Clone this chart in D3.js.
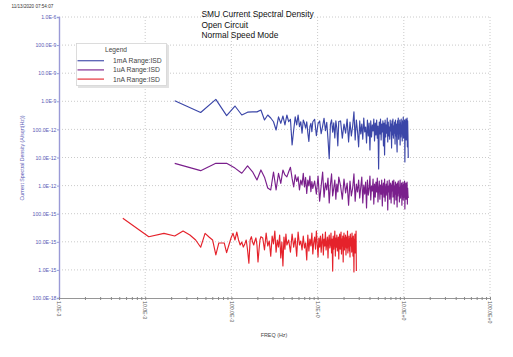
<!DOCTYPE html>
<html><head><meta charset="utf-8">
<script src="https://cdn.jsdelivr.net/npm/d3@7"></script>
<style>body{margin:0;background:#fff}svg{display:block;font-family:"Liberation Sans",Arial,sans-serif}</style>
</head><body><svg id="c" width="513" height="357"></svg>
<script>
const titleLines = ["SMU Current Spectral Density","Open Circuit","Normal Speed Mode"];
const timestamp = "11/13/2020 07:54:07";
const xTitle = "FREQ (Hz)";
const yTitle = "Current Spectral Density (A/sqrt(Hz))";
const seriesNames = ["1mA Range:ISD","1uA Range:ISD","1nA Range:ISD"];
const xTicks = [1e-3,1e-2,1e-1,1,10,100];
const yTicks = [1e-6,1e-7,1e-8,1e-9,1e-10,1e-11,1e-12,1e-13,1e-14,1e-15,1e-16];
// frequency resolution (Hz per bin) of each series
const binWidth = [0.022, 0.022, 0.0055];
// FFT bin numbers shown
const bins = [1,2,3,4,5,6,7,8,9,10,11,12,13,14,15,16,17,18,19,20,21,22,23,24,25,26,27,28,29,30,31,32,33,34,35,36,37,38,39,40,
42,44,46,48,50,52,54,56,58,60,62,64,66,68,70,72,74,76,78,80,
84,88,92,96,100,104,108,112,116,120,124,128,132,136,140,144,148,152,156,160,164,168,172,176,180,184,188,192,196,200,
204,208,212,216,220,224,228,232,236,240,244,248,252,256,260,264,268,272,276,280,284,288,292,296,300,304,308,312,316,320,
324,328,332,336,340,344,348,352,356,360,364,368,372,376,380,384,388,392,396,400,404,408,412,416,420,424,428,432,436,440,
444,448,452,456,460,464,468,472,476,480,484,488,492,496,500,504,508,512];
const isd1mA = [1.05e-9,4.0e-10,1.17e-9,3.1e-10,6.8e-10,3.25e-10,4.1e-10,4.2e-10,4.2e-10,4.9e-10,
2.16e-10,3.25e-10,2.55e-10,1.87e-10,9.5e-11,2.8e-10,1.65e-10,3.0e-10,1.44e-10,3.25e-10,
1.87e-10,2.3e-10,2.8e-11,9.5e-11,2.8e-10,1.44e-10,3.25e-10,1.25e-10,1.87e-10,7.3e-11,
2.16e-10,1.65e-10,1.1e-10,1.87e-10,7.5e-11,3.7e-11,1.25e-10,1.65e-10,8.3e-11,1.87e-10,
2.3e-10,6.0e-11,1.6e-10,2.0e-10,7.0e-11,1.3e-10,2.5e-10,9.0e-11,1.8e-10,4.5e-11,
9.0e-12,1.5e-10,2.2e-10,8.0e-11,1.7e-10,5.0e-11,2.0e-10,1.1e-10,2.6e-11,1.9e-10,
2.0e-10,4.9e-11,1.56e-10,7.4e-11,2.34e-10,3.6e-11,1.83e-10,5.8e-11,1.32e-10,4.2e-10,
4.2e-11,2.16e-10,8.8e-11,2.4e-11,2.0e-10,6.9e-11,1.56e-10,4.5e-11,2.55e-10,8.1e-11,
1.22e-10,3.3e-11,2.16e-10,5.8e-11,1.69e-10,1.85e-11,2.0e-10,5.4e-11,1.44e-10,8.8e-11,
2.34e-10,3.9e-11,1.69e-10,6.3e-11,2.16e-10,4.9e-11,1.32e-10,3.9e-12,1.83e-10,6.9e-11,
2.34e-10,4.2e-11,1.56e-10,8.1e-11,2.0e-10,2.6e-11,1.69e-10,1.23e-11,2.16e-10,5.4e-11,
1.44e-10,7.4e-11,2.55e-10,3.6e-11,1.83e-10,5.8e-11,1.22e-10,4.5e-11,2.16e-10,8.8e-11,
1.56e-10,2.2e-11,2.0e-10,6.3e-11,2.34e-10,4.9e-11,1.32e-10,7.4e-11,1.83e-10,3.0e-11,
2.16e-10,5.8e-11,1.56e-10,4.2e-11,1.57e-11,2.0e-10,6.9e-11,2.55e-10,4.5e-11,1.44e-10,
8.8e-11,2.16e-10,2.8e-11,1.69e-10,5.4e-11,2.34e-10,7.4e-11,1.32e-10,3.9e-11,2.0e-10,
6.3e-11,2.76e-10,4.9e-11,1.56e-10,8.1e-11,2.16e-10,6.9e-12,1.83e-10,5.8e-11,2.34e-10,
4.2e-11,1.44e-10,7.4e-11,2.55e-10,2.4e-11,2.0e-10,5.4e-11,9.6e-12];
const isd1uA = [6.2e-12,3.4e-12,6.2e-12,6.2e-12,4.2e-12,2.75e-12,5.0e-12,3.1e-12,1.58e-12,3.6e-12,
2.0e-12,8.2e-13,7.0e-13,3.05e-12,7.0e-13,2.75e-12,1.2e-12,3.6e-12,2.4e-12,2.05e-12,
3.1e-12,4.5e-12,1.8e-12,9.0e-13,2.4e-12,1.4e-12,2.05e-12,7.0e-13,1.58e-12,1.05e-12,
2.75e-12,9.0e-13,1.95e-12,5.3e-13,1.58e-12,9.7e-13,2.2e-12,6.1e-13,1.4e-12,8.0e-13,
1.46e-12,5.0e-13,2.2e-12,2.8e-13,9.7e-13,3.05e-12,3.9e-13,1.24e-12,7.0e-13,1.86e-12,
2.4e-13,1.05e-12,2.6e-12,4.3e-13,8.2e-13,1.58e-12,3.3e-13,1.14e-12,5.9e-13,2.0e-12,
9.7e-13,3.3e-13,1.72e-12,5.5e-13,1.24e-12,2.0e-13,1.46e-12,4.3e-13,8.2e-13,2.6e-12,
2.8e-13,1.14e-12,5.9e-13,1.58e-12,3.6e-13,8.9e-13,2.0e-12,2.4e-13,1.05e-12,5.0e-13,
1.34e-12,1.6e-13,1.58e-12,4.6e-13,7.6e-13,2.2e-12,3.1e-13,9.7e-13,6.4e-13,1.72e-12,
2.2e-13,1.14e-12,3.9e-13,1.34e-12,5.9e-13,1.86e-12,2.6e-13,8.2e-13,1.46e-12,3.3e-13,
1.05e-12,5.0e-13,1.58e-12,1.88e-13,8.9e-13,1.24e-12,3.9e-13,1.72e-12,2.8e-13,7.6e-13,
1.14e-12,4.6e-13,1.46e-12,1.35e-13,9.7e-13,5.9e-13,1.58e-12,3.3e-13,8.2e-13,1.24e-12,
2.4e-13,1.05e-12,6.4e-13,1.46e-12,3.9e-13,8.9e-13,1.58e-12,2.2e-13,9.7e-13,5.0e-13,
1.34e-12,3.1e-13,7.6e-13,1.14e-12,1.73e-13,1.24e-12,4.3e-13,1.46e-12,5.5e-13,8.2e-13,
2.6e-13,1.05e-12,1.58e-12,3.6e-13,8.9e-13,6.4e-13,1.24e-12,2.0e-13,9.7e-13,4.6e-13,
1.34e-12,3.1e-13,7.6e-13,1.14e-12,3.9e-13,1.46e-12,1.47e-13,8.9e-13,5.5e-13,1.24e-12,
3.3e-13,9.7e-13,7.0e-13,1.34e-12,2.2e-13,8.2e-13,4.6e-13,3.6e-13];
const isd1nA = [6.9e-14,1.52e-14,2.0e-14,1.61e-14,2.42e-14,1.75e-14,1.16e-14,6.4e-15,2.0e-14,1.48e-14,
1.16e-14,3.4e-15,9.1e-15,9.1e-15,9.1e-15,4.1e-15,7.7e-15,1.37e-14,2.0e-14,1.16e-14,
2.23e-14,1.16e-14,7.7e-15,9.8e-15,6.5e-15,8.4e-15,1.16e-14,5.1e-15,1.72e-15,1.16e-14,
1.52e-14,9.8e-15,7.7e-15,1.07e-14,1.37e-14,7.7e-15,1.91e-15,5.1e-15,1.16e-14,1.52e-14,
1.37e-14,5.1e-15,2.06e-14,7.1e-15,1.07e-14,3.1e-15,1.61e-14,8.4e-15,2.42e-14,4.3e-15,
1.16e-14,6.5e-15,1.75e-14,2.65e-15,9.8e-15,1.38e-15,1.48e-14,5.5e-15,1.9e-14,7.7e-15,
1.16e-14,4.3e-15,1.9e-14,6.5e-15,1.37e-14,3.1e-15,2.23e-14,7.7e-15,1.07e-14,5.1e-15,
1.61e-14,6.0e-15,9.1e-15,2.25e-15,1.75e-14,4.7e-15,1.26e-14,7.1e-15,2.06e-14,3.7e-15,
9.8e-15,1.48e-14,5.5e-15,2.42e-14,8.4e-15,2.9e-15,1.37e-14,6.5e-15,1.61e-14,4.3e-15,
1.07e-14,1.9e-14,3.4e-15,1.26e-14,7.1e-15,2.23e-14,5.1e-15,9.1e-15,1.48e-14,2.65e-15,
1.16e-14,1.75e-14,6.0e-15,8.4e-15,2.06e-14,4.0e-15,1.26e-14,9.1e-16,1.61e-14,5.5e-15,
9.8e-15,2.42e-14,3.1e-15,1.37e-14,6.5e-15,1.75e-14,4.7e-15,9.1e-15,1.48e-14,2.44e-15,
1.16e-14,1.9e-14,5.5e-15,7.7e-15,2.23e-14,3.7e-15,1.26e-14,7.1e-15,1.61e-14,1.91e-15,
1.07e-14,2.06e-14,5.1e-15,1.37e-14,6.5e-15,1.75e-14,3.4e-15,9.8e-15,1.48e-14,6.0e-15,
2.42e-14,4.0e-15,1.16e-14,7.7e-15,1.61e-14,4.7e-15,1.26e-14,2.9e-15,1.9e-14,7.1e-15,
9.8e-15,1.37e-14,4.3e-15,2.06e-14,6.5e-15,1.16e-14,3.1e-15,1.61e-14,8.4e-15,8.4e-16,
1.26e-14,5.5e-15,1.9e-14,4.0e-15,1.07e-14,7.1e-15,2.42e-14,9.1e-16];
const seriesValues = [isd1mA, isd1uA, isd1nA];
const seriesColors = ["#3b46a8","#7a1f8c","#e5222b"];

const svg = d3.select("#c");
const L=59,R=490,T=17,B=298;
const x = d3.scaleLog().domain([1e-3,100]).range([L,R]);
const y = d3.scaleLog().domain([1e-16,1e-6]).range([B,T]);
const eng = v => { const e=Math.round(Math.log10(v)); const g=Math.floor(e/3)*3; const m=Math.round(Math.pow(10,e-g)); return m.toFixed(1)+"E"+(g<0?"-":"+")+Math.abs(g); };

// grid
const grid = svg.append("g").attr("stroke","#bdbdbd").attr("stroke-width",0.8).attr("stroke-dasharray","1,2");
grid.selectAll(".gx").data(xTicks.slice(1)).join("line").attr("x1",d=>x(d)).attr("x2",d=>x(d)).attr("y1",T).attr("y2",B);
grid.selectAll(".gy").data(yTicks.slice(0,-1)).join("line").attr("y1",d=>y(d)).attr("y2",d=>y(d)).attr("x1",L).attr("x2",R);

// axes
const yAxis = d3.axisLeft(y).tickValues(y.ticks().filter(d=>d<=1e-6)).tickSize(2).tickFormat(d=>yTicks.some(t=>Math.abs(Math.log10(t)-Math.log10(d))<1e-6)?eng(d):"");
const gy = svg.append("g").attr("transform",`translate(${L},0)`).call(yAxis);
gy.select(".domain").attr("stroke","#9a9ad6").attr("stroke-width",1.4);
gy.selectAll(".tick line").attr("stroke","#9a9ad6");
gy.selectAll(".tick text").attr("fill","#5b5bb5").attr("font-size",5.2).attr("x",-2.5).attr("font-family","Liberation Sans, Arial, sans-serif");

const xAxis = d3.axisBottom(x).tickValues(x.ticks()).tickSize(2).tickFormat(()=> "");
const gx = svg.append("g").attr("transform",`translate(0,${B})`).call(xAxis);
gx.select(".domain").attr("stroke","#8a8a8a").attr("stroke-width",0.9);
gx.selectAll(".tick line").attr("stroke","#8a8a8a").attr("y1",-1);
svg.append("g").selectAll("text").data(xTicks).join("text")
  .attr("transform",d=>`translate(${x(d)-1.8},${B+3}) rotate(90)`)
  .attr("font-size",5.2).attr("fill","#555").text(d=>eng(d));

// series
const line = d3.line().x(d=>x(d[0])).y(d=>y(d[1]));
seriesValues.forEach((vals,i)=>{
  const pts = bins.map((b,j)=>[b*binWidth[i], vals[j]]);
  svg.append("path").datum(pts).attr("d",line).attr("fill","none").attr("stroke",seriesColors[i]).attr("stroke-width",1.15).attr("stroke-linejoin","round");
});

// titles
const tt = svg.append("text").attr("x",201.5).attr("y",17).attr("font-size",8.4).attr("fill","#111");
titleLines.forEach((t,i)=>tt.append("tspan").attr("x",201.5).attr("y",17+i*10.6).text(t));
svg.append("text").attr("x",11.5).attr("y",7.5).attr("font-size",4.6).attr("fill","#333").text(timestamp);
svg.append("text").attr("x",274).attr("y",336.5).attr("text-anchor","middle").attr("font-size",5.4).attr("fill","#444").text(xTitle);
svg.append("text").attr("transform","translate(23.5,158) rotate(-90)").attr("text-anchor","middle").attr("font-size",5.2).attr("fill","#5b5bb5").text(yTitle);

// legend
const lg = svg.append("g");
lg.append("rect").attr("x",78).attr("y",45).attr("width",91).attr("height",43).attr("fill","#e2e2e2");
lg.append("rect").attr("x",76.5).attr("y",43.5).attr("width",90).attr("height",42).attr("fill","#fff").attr("stroke","#d4d4d4").attr("stroke-width",0.8);
lg.append("text").attr("x",116).attr("y",51.5).attr("text-anchor","middle").attr("font-size",6.6).attr("fill","#444").text("Legend");
seriesNames.forEach((n,i)=>{
  const yy = 60.7+i*9.2;
  lg.append("line").attr("x1",77.5).attr("x2",104).attr("y1",yy).attr("y2",yy).attr("stroke",seriesColors[i]).attr("stroke-width",1.3).attr("opacity",0.85);
  lg.append("text").attr("x",113).attr("y",yy+2.4).attr("font-size",6.8).attr("fill","#444").text(n);
});
</script></body></html>
